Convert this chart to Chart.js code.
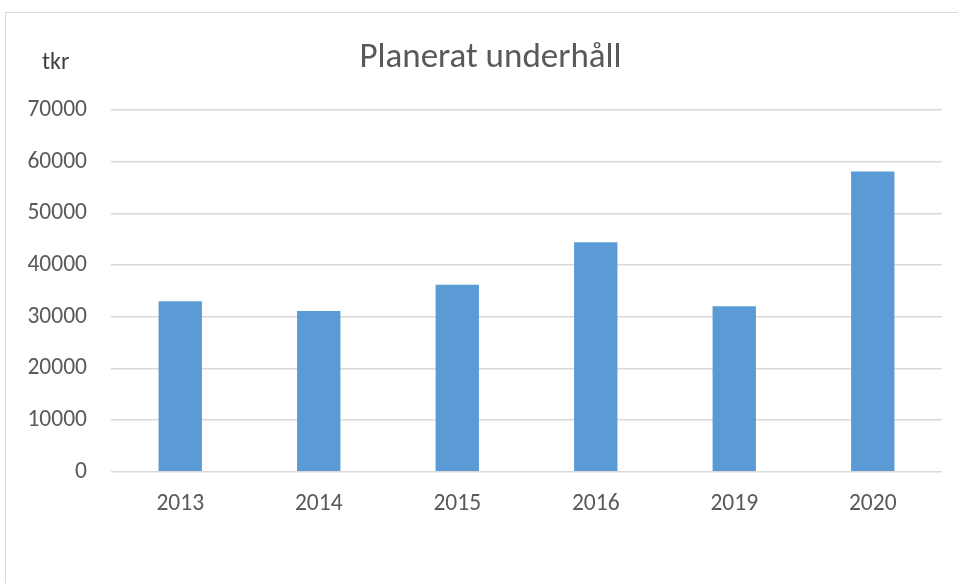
<!DOCTYPE html>
<html>
<head>
<meta charset="utf-8">
<script src="https://cdn.jsdelivr.net/npm/chart.js@4"></script>
<style>
  html, body { margin: 0; padding: 0; background: #fff; overflow: hidden; }
  #wrap { position: relative; width: 958px; height: 583px; }
  #frame { position: absolute; left: 5px; top: 12px; width: 1200px; height: 1200px;
           border-left: 1px solid #d9d9d9; border-top: 1px solid #d9d9d9; }
  canvas { position: absolute; left: 0; top: 0; }
</style>
</head>
<body>
<div id="wrap">
  <div id="frame"></div>
  <canvas id="chart" width="958" height="583"></canvas>
</div>
<script>
// ====== DATA ======
const YEARS = ["2013", "2014", "2015", "2016", "2019", "2020"];
const UNDERHALL = [33000, 31100, 36200, 44400, 32000, 58100];
const TITLE = "Planerat underhåll";
const UNIT = "tkr";
// ==================

const FONT = "Carlito, 'Open Sans', sans-serif";
const TEXT = "#595959";

// Title and unit label drawn on the canvas
const labels = {
  id: "labels",
  afterDraw(chart) {
    const ctx = chart.ctx;
    ctx.save();
    ctx.textBaseline = "alphabetic";
    ctx.fillStyle = TEXT;
    ctx.font = "35px " + FONT;
    ctx.textAlign = "center";
    ctx.fillText(TITLE, 490.5, 67);
    ctx.fillStyle = "#404040";
    ctx.font = "24px " + FONT;
    ctx.textAlign = "left";
    ctx.fillText(UNIT, 42, 69);
    ctx.restore();
  },
};

new Chart(document.getElementById("chart"), {
  type: "bar",
  data: {
    labels: YEARS,
    datasets: [{
      data: UNDERHALL,
      backgroundColor: "#5b9bd5",
      barPercentage: 0.313,
      categoryPercentage: 1,
    }],
  },
  options: {
    responsive: false,
    animation: false,
    layout: { padding: { left: 0, right: 16, top: 110, bottom: 0 } },
    plugins: { legend: { display: false }, tooltip: { enabled: false } },
    scales: {
      x: {
        grid: { display: false, drawTicks: false },
        border: { display: false },
        ticks: { color: TEXT, font: { family: FONT, size: 23.5 }, padding: 18 },
        afterFit(s) { s.height = 111.3; },
      },
      y: {
        min: 0,
        max: 70000,
        ticks: {
          stepSize: 10000,
          color: TEXT,
          font: { family: FONT, size: 23.5 },
          padding: 24,
          callback: (v) => String(v),
        },
        grid: { color: "#d9d9d9", lineWidth: 1.5, drawTicks: false },
        border: { display: false },
        afterFit(s) { s.width = 111; },
      },
    },
  },
  plugins: [labels],
});
</script>
</body>
</html>
